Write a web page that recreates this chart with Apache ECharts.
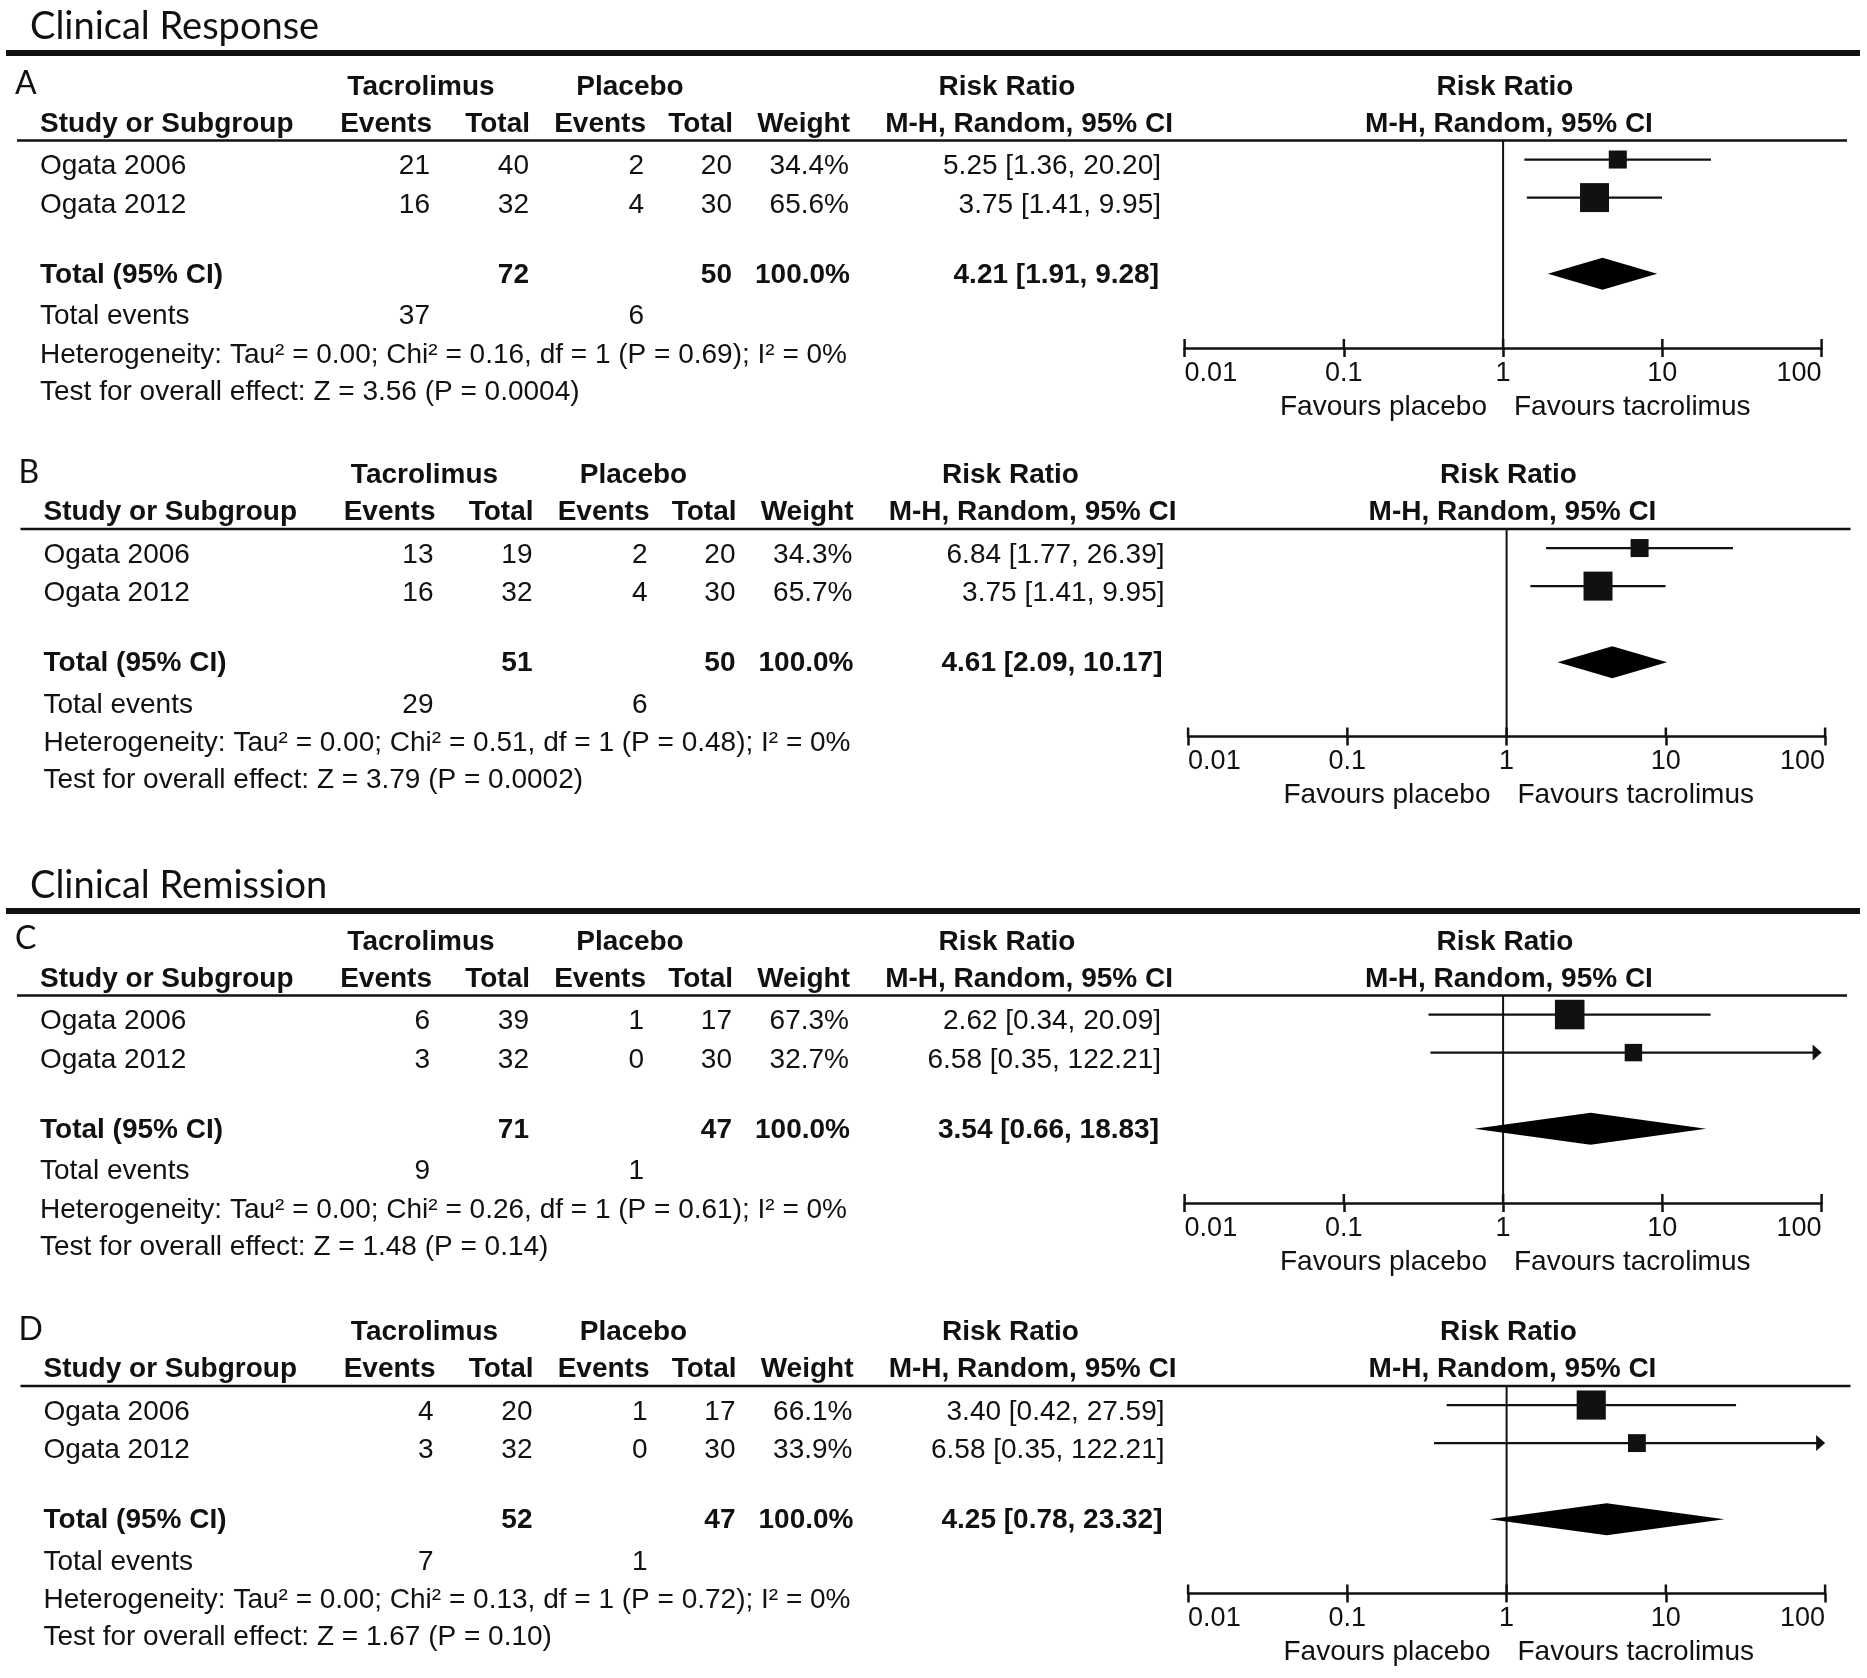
<!DOCTYPE html>
<html><head><meta charset="utf-8">
<script src="https://cdn.jsdelivr.net/npm/echarts@6/dist/echarts.min.js"></script>
<style>html,body{margin:0;padding:0;background:#fff}#c{width:1867px;height:1678px}</style>
</head><body><div id="c"></div>
<script>
// ---------------- data ----------------
const sectionTitles = ['Clinical Response', 'Clinical Remission'];
const panelLabels = ['A', 'B', 'C', 'D'];
const studyNames = ['Ogata 2006', 'Ogata 2012'];
const tacEvents = [[21, 16], [13, 16], [6, 3], [4, 3]];
const tacTotal = [[40, 32], [19, 32], [39, 32], [20, 32]];
const plaEvents = [[2, 4], [2, 4], [1, 0], [1, 0]];
const plaTotal = [[20, 30], [20, 30], [17, 30], [17, 30]];
const weights = [[34.4, 65.6], [34.3, 65.7], [67.3, 32.7], [66.1, 33.9]];
const rr = [[5.25, 3.75], [6.84, 3.75], [2.62, 6.58], [3.40, 6.58]];
const rrLow = [[1.36, 1.41], [1.77, 1.41], [0.34, 0.35], [0.42, 0.35]];
const rrHigh = [[20.20, 9.95], [26.39, 9.95], [20.09, 122.21], [27.59, 122.21]];
const totalTac = [72, 51, 71, 52];
const totalPla = [50, 50, 47, 47];
const totalWeight = [100.0, 100.0, 100.0, 100.0];
const totalRR = [4.21, 4.61, 3.54, 4.25];
const totalLow = [1.91, 2.09, 0.66, 0.78];
const totalHigh = [9.28, 10.17, 18.83, 23.32];
const totalEventsTac = [37, 29, 9, 7];
const totalEventsPla = [6, 6, 1, 1];
const heterogeneity = [
  'Heterogeneity: Tau² = 0.00; Chi² = 0.16, df = 1 (P = 0.69); I² = 0%',
  'Heterogeneity: Tau² = 0.00; Chi² = 0.51, df = 1 (P = 0.48); I² = 0%',
  'Heterogeneity: Tau² = 0.00; Chi² = 0.26, df = 1 (P = 0.61); I² = 0%',
  'Heterogeneity: Tau² = 0.00; Chi² = 0.13, df = 1 (P = 0.72); I² = 0%'
];
const overallEffect = [
  'Test for overall effect: Z = 3.56 (P = 0.0004)',
  'Test for overall effect: Z = 3.79 (P = 0.0002)',
  'Test for overall effect: Z = 1.48 (P = 0.14)',
  'Test for overall effect: Z = 1.67 (P = 0.10)'
];
const tickValues = [0.01, 0.1, 1, 10, 100];
const tickLabels = ['0.01', '0.1', '1', '10', '100'];
const axisMin = 0.01, axisMax = 100;
const favoursLeft = 'Favours placebo', favoursRight = 'Favours tacrolimus';

// ---------------- layout ----------------
const panelDX = [0, 3.5, 0, 3.5];
const panelDY = [0, 388.5, 855, 1245.5];
const sectionY = [27, 886];
const sectionLineY = [53, 911];
const gridLeft = 1184.6, gridWidth = 637, gridTop = 140.5, gridHeight = 207.5;
const rowUnit = 38.07, yMax = gridHeight / rowUnit;
const studyRowPos = [0.5, 1.5], totalRowPos = 3.5;
const TF = '"Liberation Sans", Arial, Helvetica, sans-serif';
const TITLEF = 'Lato, "Open Sans", sans-serif';
const reg = '28px ' + TF, bold = 'bold 28px ' + TF;

const graphics = [];
function txt(s, x, y, font, align) {
  graphics.push({type: 'text', silent: true, style: {text: String(s), x: x, y: y, font: font, fill: '#111', textAlign: align || 'left', textVerticalAlign: 'middle'}});
}
function hline(x1, x2, y, w) {
  graphics.push({type: 'line', silent: true, shape: {x1: x1, y1: y, x2: x2, y2: y}, style: {stroke: '#111', lineWidth: w}});
}
const fmtRR = (v, l, h) => v.toFixed(2) + ' [' + l.toFixed(2) + ', ' + h.toFixed(2) + ']';

sectionTitles.forEach((t, i) => {
  txt(t, 30, sectionY[i], '38px ' + TITLEF, 'left');
  hline(6, 1860, sectionLineY[i], 6);
});

const grids = [], xAxes = [], yAxes = [], series = [];
panelLabels.forEach((lab, p) => {
  const dx = panelDX[p], dy = panelDY[p];
  const X = v => v + dx, Y = v => v + dy;
  txt(lab, X(15), Y(84), '32px ' + TITLEF, 'left');
  txt('Tacrolimus', X(421), Y(87), bold, 'center');
  txt('Placebo', X(630), Y(87), bold, 'center');
  txt('Risk Ratio', X(1007), Y(87), bold, 'center');
  txt('Risk Ratio', X(1505), Y(87), bold, 'center');
  const h2 = Y(124);
  txt('Study or Subgroup', X(40), h2, bold, 'left');
  txt('Events', X(432), h2, bold, 'right');
  txt('Total', X(530), h2, bold, 'right');
  txt('Events', X(646), h2, bold, 'right');
  txt('Total', X(733), h2, bold, 'right');
  txt('Weight', X(850), h2, bold, 'right');
  txt('M-H, Random, 95% CI', X(1173), h2, bold, 'right');
  txt('M-H, Random, 95% CI', X(1509), h2, bold, 'center');
  hline(X(17), X(1847), Y(140.5), 2.5);
  const rowY = [166.5, 205];
  studyNames.forEach((n, i) => {
    const y = Y(rowY[i]);
    txt(n, X(40), y, reg, 'left');
    txt(tacEvents[p][i], X(430), y, reg, 'right');
    txt(tacTotal[p][i], X(529), y, reg, 'right');
    txt(plaEvents[p][i], X(644), y, reg, 'right');
    txt(plaTotal[p][i], X(732), y, reg, 'right');
    txt(weights[p][i].toFixed(1) + '%', X(849), y, reg, 'right');
    txt(fmtRR(rr[p][i], rrLow[p][i], rrHigh[p][i]), X(1161), y, reg, 'right');
  });
  const ty = Y(275);
  txt('Total (95% CI)', X(40), ty, bold, 'left');
  txt(totalTac[p], X(529), ty, bold, 'right');
  txt(totalPla[p], X(732), ty, bold, 'right');
  txt(totalWeight[p].toFixed(1) + '%', X(850), ty, bold, 'right');
  txt(fmtRR(totalRR[p], totalLow[p], totalHigh[p]), X(1159), ty, bold, 'right');
  const ey = Y(316.5);
  txt('Total events', X(40), ey, reg, 'left');
  txt(totalEventsTac[p], X(430), ey, reg, 'right');
  txt(totalEventsPla[p], X(644), ey, reg, 'right');
  txt(heterogeneity[p], X(40), Y(355), reg, 'left');
  txt(overallEffect[p], X(40), Y(392), reg, 'left');
  txt(favoursLeft, X(1487), Y(407), reg, 'right');
  txt(favoursRight, X(1514), Y(407), reg, 'left');

  grids.push({left: X(gridLeft), top: Y(gridTop), width: gridWidth, height: gridHeight});
  xAxes.push({type: 'log', logBase: 10, min: axisMin, max: axisMax, gridIndex: p, position: 'bottom',
    splitLine: {show: false}, minorTick: {show: false},
    axisLine: {show: true, onZero: false, lineStyle: {color: '#111', width: 2.5}},
    axisTick: {show: true, inside: false, length: 9, lineStyle: {color: '#111', width: 2.5}},
    axisLabel: {show: true, margin: 12, color: '#111', fontFamily: TF, fontSize: 27,
      alignMinLabel: 'left', alignMaxLabel: 'right',
      formatter: v => tickLabels[Math.round(Math.log10(v)) + 2]}
  });
  yAxes.push({type: 'value', gridIndex: p, inverse: true, min: 0, max: yMax, show: false});

  const xi = p, yi = p;
  // upward half of the axis ticks
  series.push({type: 'custom', xAxisIndex: xi, yAxisIndex: yi, clip: false, silent: true,
    data: tickValues.map(v => [v, yMax]),
    renderItem: (params, api) => {
      const a = api.coord([api.value(0), api.value(1)]);
      return {type: 'line', shape: {x1: a[0], y1: a[1], x2: a[0], y2: a[1] - 9}, style: {stroke: '#111', lineWidth: 2.5}};
    }});
  // reference line at RR = 1
  series.push({type: 'custom', xAxisIndex: xi, yAxisIndex: yi, clip: false, silent: true,
    data: [[1, 0, yMax]],
    renderItem: (params, api) => {
      const a = api.coord([api.value(0), api.value(1)]), b = api.coord([api.value(0), api.value(2)]);
      return {type: 'line', shape: {x1: a[0], y1: a[1], x2: b[0], y2: b[1]}, style: {stroke: '#111', lineWidth: 2}};
    }});
  // studies
  series.push({type: 'custom', xAxisIndex: xi, yAxisIndex: yi, clip: false, silent: true,
    encode: {x: 0, y: 4},
    data: studyNames.map((n, i) => [rr[p][i], rrLow[p][i], rrHigh[p][i], weights[p][i], studyRowPos[i]]),
    renderItem: (params, api) => {
      const y = api.value(4);
      const c = api.coord([api.value(0), y]);
      const lo = api.coord([Math.max(api.value(1), axisMin), y]);
      const hiVal = api.value(2);
      const hiC = api.coord([Math.min(hiVal, axisMax), y]);
      const s = 6 + 0.35 * api.value(3);
      const kids = [];
      const over = hiVal > axisMax;
      kids.push({type: 'line', shape: {x1: lo[0], y1: c[1], x2: over ? hiC[0] - 8 : hiC[0], y2: c[1]}, style: {stroke: '#111', lineWidth: 2.2}});
      if (over) kids.push({type: 'polygon', shape: {points: [[hiC[0], c[1]], [hiC[0] - 9, c[1] - 8], [hiC[0] - 9, c[1] + 8]]}, style: {fill: '#111'}});
      kids.push({type: 'rect', shape: {x: c[0] - s / 2, y: c[1] - s / 2, width: s, height: s}, style: {fill: '#111'}});
      return {type: 'group', children: kids};
    }});
  // pooled diamond
  series.push({type: 'custom', xAxisIndex: xi, yAxisIndex: yi, clip: false, silent: true,
    encode: {x: 0, y: 3},
    data: [[totalRR[p], totalLow[p], totalHigh[p], totalRowPos]],
    renderItem: (params, api) => {
      const y = api.value(3);
      const c = api.coord([api.value(0), y]);
      const l = api.coord([api.value(1), y]);
      const r = api.coord([api.value(2), y]);
      return {type: 'polygon', shape: {points: [[l[0], c[1]], [c[0], c[1] - 16], [r[0], c[1]], [c[0], c[1] + 16]]}, style: {fill: '#000'}};
    }});
});

const chart = echarts.init(document.getElementById('c'), null, {renderer: 'canvas'});
chart.setOption({
  backgroundColor: '#fff',
  animation: false,
  grid: grids, xAxis: xAxes, yAxis: yAxes, series: series,
  graphic: {elements: graphics}
});
</script>
</body></html>
